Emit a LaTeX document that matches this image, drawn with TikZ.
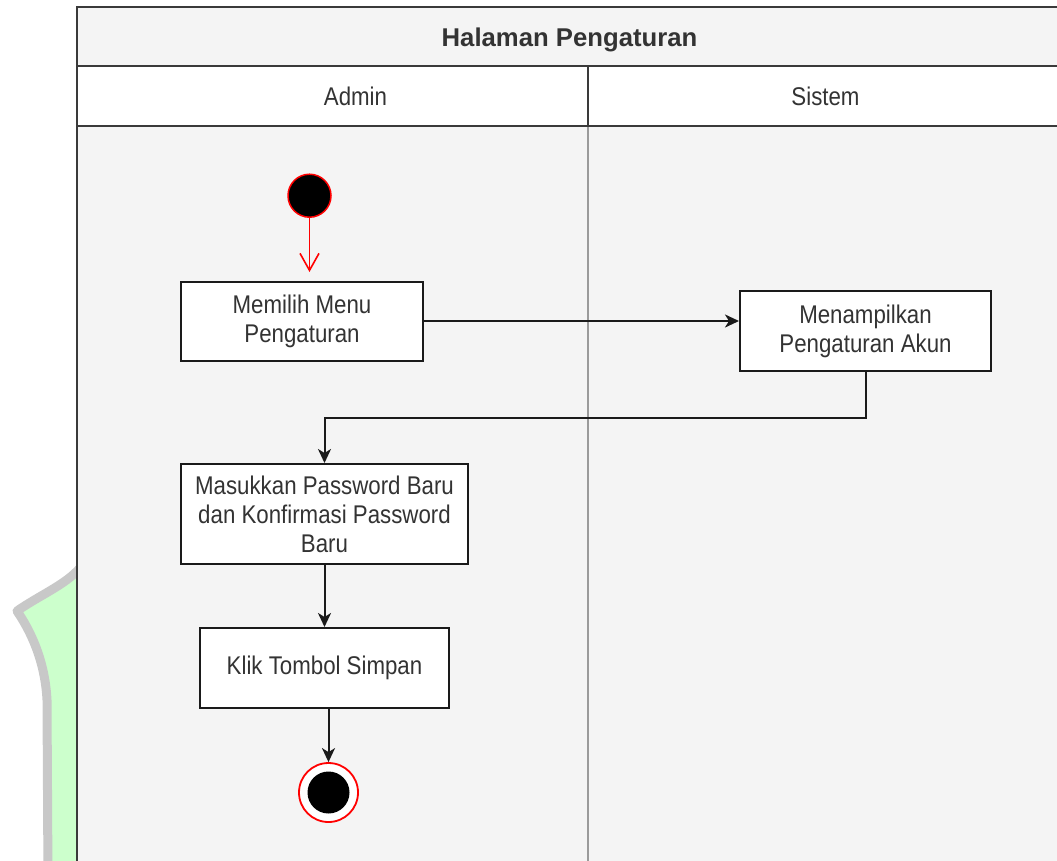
\documentclass[tikz,border=0pt]{standalone}
\usepackage{fontspec}
\setmainfont{Liberation Sans}
\newfontfamily\lanefont[FakeStretch=0.87]{Liberation Sans}
\usetikzlibrary{arrows.meta}
\definecolor{lanebg}{HTML}{F4F4F4}
\definecolor{ink}{HTML}{333333}
\definecolor{edge}{HTML}{1A1A1A}
\definecolor{framec}{HTML}{3A3A3A}
\definecolor{mint}{HTML}{CCFFCC}
\definecolor{halo}{HTML}{C8C8C8}
\definecolor{divider}{HTML}{9A9A9A}
\definecolor{umlred}{HTML}{FF0000}

\begin{document}
\begin{tikzpicture}[x=1pt,y=-1pt,
  txt/.style={font={\lanefont\fontsize{25.6}{29}\selectfont}, text=ink},
  action/.style={txt, draw=edge, line width=2pt, fill=white, align=center, inner sep=0pt},
  flow/.style={draw=edge, line width=2pt, -{Stealth[length=14pt,width=13pt,inset=4pt]}},
  startflow/.style={draw=umlred, line width=1.6pt, -{Straight Barb[length=17pt,width=19pt,line width=1.6pt]}},
  frameline/.style={draw=framec, line width=2pt},
]
\useasboundingbox (0,0) rectangle (1057,860);
\clip (0,0) rectangle (1057,860);

% green emblem behind the lanes
\filldraw[fill=mint, draw=halo, line width=9pt, line join=round]
  (95,556) -- (80,568) .. controls (65,585) and (40,595) .. (17,611)
  .. controls (30,630) and (45,660) .. (47,700) -- (48,880) -- (95,880) -- cycle;

% swimlane frame
\fill[lanebg] (77,7) rectangle (1063,880);
\fill[white] (77,66) rectangle (1063,126);
\draw[divider, line width=2.2pt] (588,126) -- (588,880);
\draw[frameline] (1063,7) -- (77,7) -- (77,880);
\draw[frameline] (77,66) -- (1063,66);
\draw[frameline] (77,126) -- (1063,126);
\draw[frameline] (588,66) -- (588,126);

\node[anchor=base, text=ink, font={\fontsize{25.7}{29}\selectfont\bfseries}] (title) at (569.5,46) {Halaman Pengaturan};
\node[txt, anchor=base] (admin) at (355.5,105) {Admin};
\node[txt, anchor=base] (sistem) at (825.5,105) {Sistem};

% activities
\node[circle, fill=black, draw=umlred, line width=1.5pt, minimum size=43pt, inner sep=0pt] (start) at (309.5,195.7) {};
\node[action, minimum width=242pt, minimum height=79pt] (box1) at (302,321) {Memilih Menu\\Pengaturan};
\node[action, minimum width=251pt, minimum height=80pt] (box2) at (865.5,331) {Menampilkan\\Pengaturan Akun};
\node[action, minimum width=287pt, minimum height=100pt] (box3) at (324.5,514) {Masukkan Password Baru\\dan Konfirmasi Password\\Baru};
\node[action, minimum width=249pt, minimum height=80pt] (box4) at (324.5,668) {Klik Tombol Simpan};
\node[circle, fill=white, draw=umlred, line width=1.8pt, minimum size=59pt, inner sep=0pt] (finish) at (328.5,792.5) {};
\node[circle, fill=black, minimum size=42pt, inner sep=0pt] (finishcore) at (finish.center) {};

\coordinate (bend) at (0,418);

% transitions
\draw[startflow, shorten >=8.5pt] (start) -- (start |- box1.north);
\draw[flow] (box1.east) -- (box1.east -| box2.west);
\draw[flow] (box2.south) -- (box2.south |- bend) -- (box3.north |- bend) -- (box3.north);
\draw[flow] (box3) -- (box4);
\draw[flow] (box4.south -| finish) -- (finish.north);
\end{tikzpicture}
\end{document}
